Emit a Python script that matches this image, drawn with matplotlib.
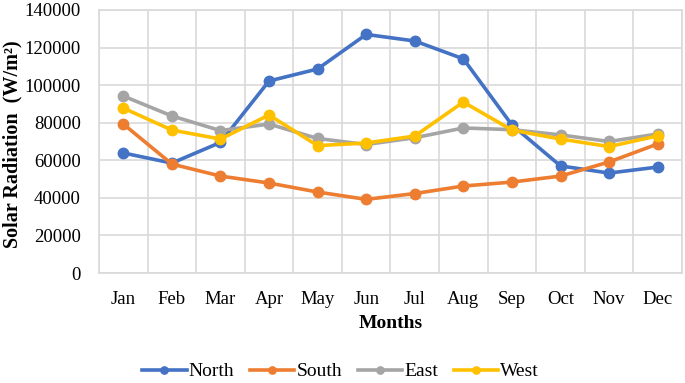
import matplotlib
matplotlib.use("Agg")
import matplotlib.pyplot as plt
import numpy as np

months = ["Jan", "Feb", "Mar", "Apr", "May", "Jun", "Jul", "Aug", "Sep", "Oct", "Nov", "Dec"]
north = [63900, 58500, 69500, 102200, 108600, 127000, 123500, 114000, 78800, 57000, 53200, 56400]
south = [79300, 58000, 51600, 47900, 43100, 39200, 42300, 46300, 48400, 51600, 59100, 68700]
east = [94200, 83600, 75800, 79300, 71600, 68400, 72000, 77200, 76300, 73500, 70000, 74000]
west = [87800, 76100, 71300, 84100, 67800, 69200, 72900, 91000, 76100, 71300, 67300, 73000]
yticks = [0, 20000, 40000, 60000, 80000, 100000, 120000, 140000]

series = [("North", north, "#4472C4"), ("South", south, "#ED7D31"),
          ("East", east, "#A5A5A5"), ("West", west, "#FFC000")]

plt.rcParams['font.family'] = ['Liberation Serif', 'DejaVu Serif']

fig = plt.figure(figsize=(6.85, 3.83), dpi=100)
ax = fig.add_axes([0.1445, 0.2872, 0.8511, 0.6867])

x = np.arange(len(months))
for name, vals, col in series:
    ax.plot(x, vals, color=col, lw=2.6, marker='o', markersize=7.5, label=name)

ax.set_xlim(-0.5, len(months) - 0.5)
ax.set_ylim(0, 140000)
ax.set_yticks(yticks)
ax.set_yticklabels([str(v) for v in yticks], fontsize=13.5)
ax.set_xticks(x)
ax.set_xticklabels(months, fontsize=13.5)
ax.set_xticks(np.arange(-0.5, len(months), 1.0), minor=True)
ax.tick_params(axis='both', which='both', length=0)
ax.tick_params(axis='y', pad=13)
ax.tick_params(axis='x', pad=13)
ax.grid(True, which='major', axis='y', color='#D9D9D9', lw=1.2)
ax.grid(True, which='minor', axis='x', color='#D9D9D9', lw=1.2)
ax.set_axisbelow(True)
for s in ax.spines.values():
    s.set_color('#D9D9D9')
    s.set_linewidth(1.2)

ax.set_xlabel("Months", fontsize=14, fontweight='bold', labelpad=5)
ax.set_ylabel("Solar Radiation  (W/m²)", fontsize=14.5, fontweight='bold', va='center')
ax.yaxis.set_label_coords(-0.149, 0.49)

fig.legend(loc='center', bbox_to_anchor=(0.497, 0.03), ncol=4, frameon=False,
           fontsize=14, handlelength=2.3, columnspacing=0.8, handletextpad=0.1,
           markerscale=0.7, borderpad=0.1)

fig.savefig("out.png", dpi=100)
